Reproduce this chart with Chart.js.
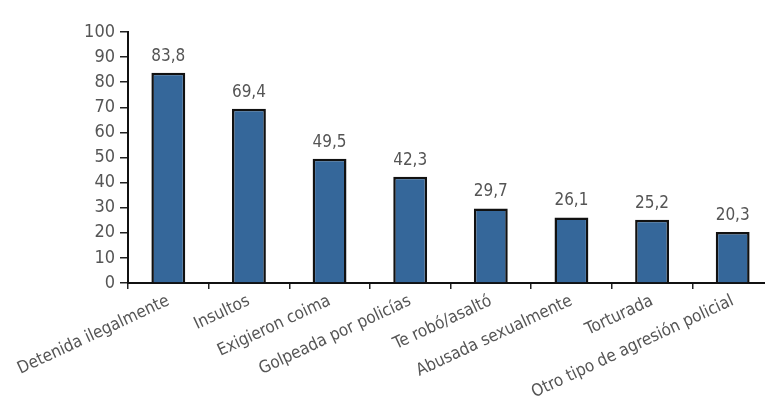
<!DOCTYPE html>
<html lang="es">
<head>
    <meta charset="UTF-8">
    <title>Agresiones policiales</title>
    <script src="https://cdn.jsdelivr.net/npm/chart.js"></script>
    <style>
        html, body { margin: 0; padding: 0; overflow: hidden; background: #fff; }
        #wrap { width: 775px; height: 410px; }
    </style>
</head>
<body>
    <div id="wrap"><canvas id="grafico"></canvas></div>

    <script>
        const categorias = [
            'Detenida ilegalmente', 'Insultos', 'Exigieron coima', 'Golpeada por policías',
            'Te robó/asaltó', 'Abusada sexualmente', 'Torturada', 'Otro tipo de agresión policial'
        ];
        const porcentajes = [83.8, 69.4, 49.5, 42.3, 29.7, 26.1, 25.2, 20.3];
        const ticksY = [0, 10, 20, 30, 40, 50, 60, 70, 80, 90, 100];

        const fuente = '"Liberation Sans Narrow", "DejaVu Sans Condensed", "Arial Narrow", sans-serif';

        // etiquetas de valor encima de cada barra, con coma decimal
        const etiquetas = {
            id: 'etiquetas',
            afterDatasetsDraw(chart) {
                const c = chart.ctx;
                const meta = chart.getDatasetMeta(0);
                c.save();
                c.font = '17px ' + fuente;
                c.fillStyle = '#555';
                c.textAlign = 'center';
                c.textBaseline = 'bottom';
                meta.data.forEach((bar, i) => {
                    c.fillText(porcentajes[i].toFixed(1).replace('.', ','), bar.x, bar.y - 8);
                });
                c.restore();
            }
        };

        const ctx = document.getElementById('grafico').getContext('2d');
        new Chart(ctx, {
            type: 'bar',
            data: {
                labels: categorias,
                datasets: [{
                    data: porcentajes,
                    backgroundColor: '#35679a',
                    borderColor: '#111',
                    borderWidth: 2.5,
                    borderSkipped: 'bottom',
                    barPercentage: 0.84,
                    categoryPercentage: 0.5
                }]
            },
            options: {
                responsive: true,
                maintainAspectRatio: false,
                animation: false,
                layout: { padding: { top: 32, right: 2, left: 0, bottom: 0 } },
                plugins: { legend: { display: false }, tooltip: { enabled: false } },
                scales: {
                    y: {
                        min: 0,
                        max: 100,
                        afterBuildTicks: (s) => { s.ticks = ticksY.map(v => ({ value: v })); },
                        afterFit: (s) => { s.width = 128; },
                        ticks: { color: '#555', padding: 5, font: { family: fuente, size: 18 } },
                        grid: { display: true, drawOnChartArea: false, drawTicks: true, tickLength: 8, color: '#222', lineWidth: 1.5 },
                        border: { display: true, color: '#111', width: 2 }
                    },
                    x: {
                        afterFit: (s) => { s.height = 127; },
                        ticks: { color: '#555', minRotation: 25, maxRotation: 25, padding: 2, font: { family: fuente, size: 17 } },
                        grid: { display: true, offset: true, drawOnChartArea: false, drawTicks: true, tickLength: 6, color: '#222', lineWidth: 1.5 },
                        border: { display: true, color: '#111', width: 2 }
                    }
                }
            },
            plugins: [etiquetas]
        });
    </script>
</body>
</html>
